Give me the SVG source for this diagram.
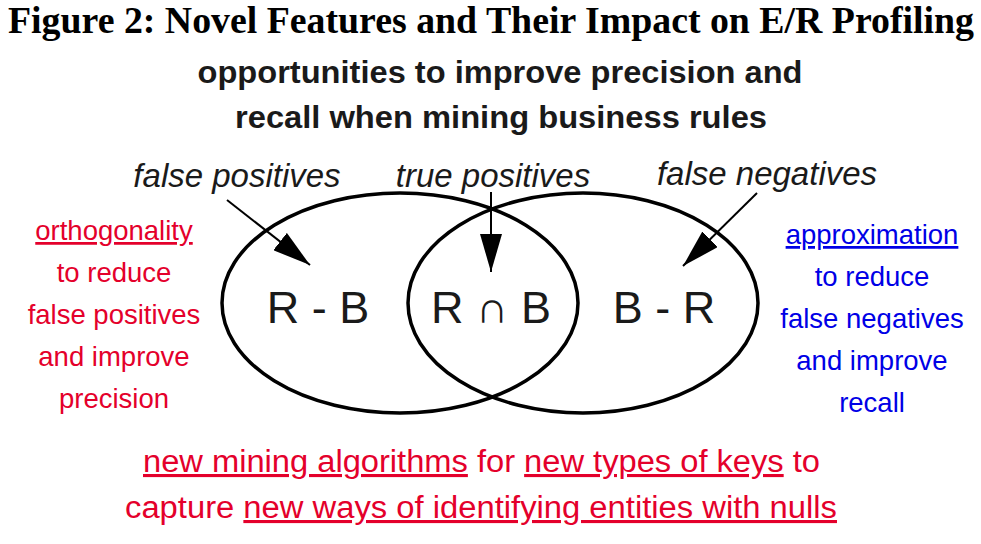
<svg xmlns="http://www.w3.org/2000/svg" width="981" height="544" viewBox="0 0 981 544">
<style>
.title{font-family:"Liberation Serif","DejaVu Serif",serif;font-weight:bold;font-size:37px;fill:#000}
.sub{font-family:"Liberation Sans",Arial,sans-serif;font-weight:bold;font-size:32px;fill:#1a1a1a;text-anchor:middle}
.lbl{font-family:"Liberation Sans",Arial,sans-serif;font-style:italic;font-size:33px;fill:#1a1a1a;text-anchor:middle}
.set{font-family:"Liberation Sans",Arial,sans-serif;font-size:45px;fill:#1a1a1a;text-anchor:middle}
.red{font-family:"Liberation Sans",Arial,sans-serif;font-size:27.5px;fill:#e4002b;text-anchor:middle}
.blue{font-family:"Liberation Sans",Arial,sans-serif;font-size:27.5px;fill:#0000e6;text-anchor:middle}
.bot{font-family:"Liberation Sans",Arial,sans-serif;font-size:31px;fill:#e4002b}
.u{text-decoration:underline}
.ell{fill:none;stroke:#000;stroke-width:3.5}
.arr{stroke:#000;stroke-width:2;fill:none}
</style>
<defs>
<marker id="ahb" viewBox="0 0 10 10" refX="10" refY="5" markerWidth="38" markerHeight="22" markerUnits="userSpaceOnUse" orient="auto" preserveAspectRatio="none">
<path d="M0,0 L10,5 L0,10 z" fill="#000"/>
</marker>
</defs>
<rect width="981" height="544" fill="#fff"/>
<text class="title" x="8" y="33" textLength="966" lengthAdjust="spacingAndGlyphs">Figure 2: Novel Features and Their Impact on E/R Profiling</text>
<text class="sub" x="500" y="83" textLength="605" lengthAdjust="spacingAndGlyphs">opportunities to improve precision and</text>
<text class="sub" x="501" y="128" textLength="532" lengthAdjust="spacingAndGlyphs">recall when mining business rules</text>
<g id="setR">
<ellipse class="ell" cx="400" cy="303" rx="178" ry="110"/>
</g>
<g id="setB">
<ellipse class="ell" cx="583" cy="303" rx="175" ry="110"/>
</g>
<g id="regionRB"><text class="set" x="318" y="323">R - B</text></g>
<g id="regionRnB"><text class="set" x="491" y="323">R ∩ B</text></g>
<g id="regionBR"><text class="set" x="664" y="323">B - R</text></g>
<g id="lblFP"><text class="lbl" x="237" y="187">false positives</text></g>
<g id="lblTP"><text class="lbl" x="493" y="187">true positives</text></g>
<g id="lblFN"><text class="lbl" x="767" y="185">false negatives</text></g>
<g id="connectors">
<line class="arr" x1="227" y1="200" x2="310" y2="265" marker-end="url(#ahb)"/>
<line class="arr" x1="491" y1="192" x2="491" y2="272" marker-end="url(#ahb)"/>
<line class="arr" x1="757" y1="193" x2="683" y2="266" marker-end="url(#ahb)"/>
</g>
<g id="leftNote">
<text class="red" x="114" y="240"><tspan class="u">orthogonality</tspan></text>
<text class="red" x="114" y="282">to reduce</text>
<text class="red" x="114" y="324">false positives</text>
<text class="red" x="114" y="366">and improve</text>
<text class="red" x="114" y="408">precision</text>
</g>
<g id="rightNote">
<text class="blue" x="872" y="244"><tspan class="u">approximation</tspan></text>
<text class="blue" x="872" y="286">to reduce</text>
<text class="blue" x="872" y="328">false negatives</text>
<text class="blue" x="872" y="370">and improve</text>
<text class="blue" x="872" y="412">recall</text>
</g>
<g id="bottomNote">
<text class="bot" x="143" y="472" textLength="677" lengthAdjust="spacingAndGlyphs"><tspan class="u">new mining algorithms</tspan> for <tspan class="u">new types of keys</tspan> to</text>
<text class="bot" x="125" y="518" textLength="712" lengthAdjust="spacingAndGlyphs">capture <tspan class="u">new ways of identifying entities with nulls</tspan></text>
</g>
</svg>
